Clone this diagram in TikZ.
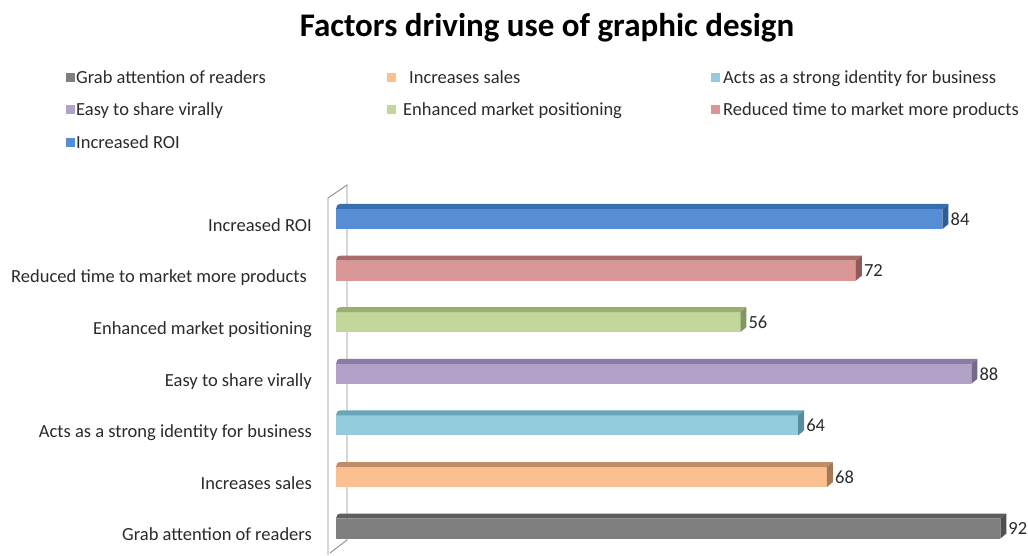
\documentclass[tikz,border=0pt]{standalone}
\usepackage{fontspec}
\setmainfont{Carlito}
\definecolor{cGrab}{HTML}{7F7F7F}\definecolor{tGrab}{HTML}{5E5E5E}
\definecolor{cSales}{HTML}{FAC090}\definecolor{tSales}{HTML}{C08E66}
\definecolor{cActs}{HTML}{93CDDD}\definecolor{tActs}{HTML}{68A6B7}
\definecolor{cEasy}{HTML}{B3A2C7}\definecolor{tEasy}{HTML}{8C7BA6}
\definecolor{cEnh}{HTML}{C3D69B}\definecolor{tEnh}{HTML}{9BB070}
\definecolor{cRed}{HTML}{D99694}\definecolor{tRed}{HTML}{A96A68}
\definecolor{cROI}{HTML}{558ED5}\definecolor{tROI}{HTML}{3A6DAE}
\definecolor{txt}{HTML}{2B2B2B}
\definecolor{wall}{HTML}{8C8C8C}
\newcommand{\chartbar}[6]{%
  \pgfmathsetmacro\xe{336+7.22*#3}%
  \pgfmathsetmacro\yc{555-#2}%
  \fill[#4] (336,\yc-10) rectangle (\xe,\yc+10);
  \fill[#5] (336,\yc+10) -- (\xe,\yc+10) -- (\xe+6,\yc+15) -- (341,\yc+15)
     .. controls (337.5,\yc+15) and (336,\yc+13) .. (336,\yc+10) -- cycle;
  \fill[#5!85!black] (\xe,\yc-10) -- (\xe+6,\yc-5) -- (\xe+6,\yc+15) -- (\xe,\yc+10) -- cycle;
  \node[val] (v#1) at (\xe+8,\yc-4) {#3};
  \node[cat] (c#1) at (#6,\yc-10) {\csname lab#1\endcsname};
}
\def\labGrab{Grab attention of readers}
\def\labSales{Increases sales}
\def\labActs{Acts as a strong identity for business}
\def\labEasy{Easy to share virally}
\def\labEnh{Enhanced market positioning}
\def\labRed{Reduced time to market more products}
\def\labROI{Increased ROI}
\tikzset{
  txtstyle/.style={inner sep=0pt, text=txt, font=\fontsize{18.5}{20}\selectfont},
  val/.style={txtstyle, anchor=mid west},
  cat/.style={txtstyle, anchor=mid east},
  leg/.style={txtstyle, anchor=mid west},
  legsq/.style={minimum width=9pt, minimum height=9pt, inner sep=0pt, anchor=west},
  wallline/.style={draw=wall, line width=0.9pt},
}
\begin{document}
\begin{tikzpicture}[x=1pt,y=1pt]
\useasboundingbox (0,0) rectangle (1028,555);
\fill[white] (0,0) rectangle (1028,555);
% title
\node[anchor=base, inner sep=0pt, font=\fontsize{33}{36}\bfseries\selectfont] (title) at (547,555-37) {Factors driving use of graphic design};
% legend
\node[legsq, fill=cGrab] (sq1) at (66,555-78) {};
\node[leg] (l1) at (76,555-81.5) {Grab attention of readers};
\node[legsq, fill=cSales] (sq2) at (387,555-78) {};
\node[leg] (l2) at (409,555-81.5) {Increases sales};
\node[legsq, fill=cActs] (sq3) at (711,555-78) {};
\node[leg] (l3) at (723,555-81.5) {Acts as a strong identity for business};
\node[legsq, fill=cEasy] (sq4) at (66,555-109.5) {};
\node[leg] (l4) at (76,555-113) {Easy to share virally};
\node[legsq, fill=cEnh] (sq5) at (387,555-109.5) {};
\node[leg] (l5) at (403,555-113) {Enhanced market positioning};
\node[legsq, fill=cRed] (sq6) at (711,555-109.5) {};
\node[leg] (l6) at (723,555-113) {Reduced time to market more products};
\node[legsq, fill=cROI] (sq7) at (66,555-143) {};
\node[leg] (l7) at (76,555-146.5) {Increased ROI};
% wall
\coordinate (wft) at (328,555-198);
\coordinate (wfb) at (328,0);
\coordinate (wbt) at (347,555-185);
\coordinate (wbb) at (347,555-540);
\coordinate (wbe) at (330,555-553);
\draw[wallline] (wfb) -- (wft) -- (wbt) -- (wbb) -- (wbe);
% bars
\chartbar{ROI}{219}{84}{cROI}{tROI}{312}
\chartbar{Red}{270.6}{72}{cRed}{tRed}{307}
\chartbar{Enh}{322.2}{56}{cEnh}{tEnh}{312}
\chartbar{Easy}{373.8}{88}{cEasy}{tEasy}{312}
\chartbar{Acts}{425.4}{64}{cActs}{tActs}{312}
\chartbar{Sales}{477}{68}{cSales}{tSales}{312}
\chartbar{Grab}{528.6}{92}{cGrab}{tGrab}{312}
\end{tikzpicture}
\end{document}
